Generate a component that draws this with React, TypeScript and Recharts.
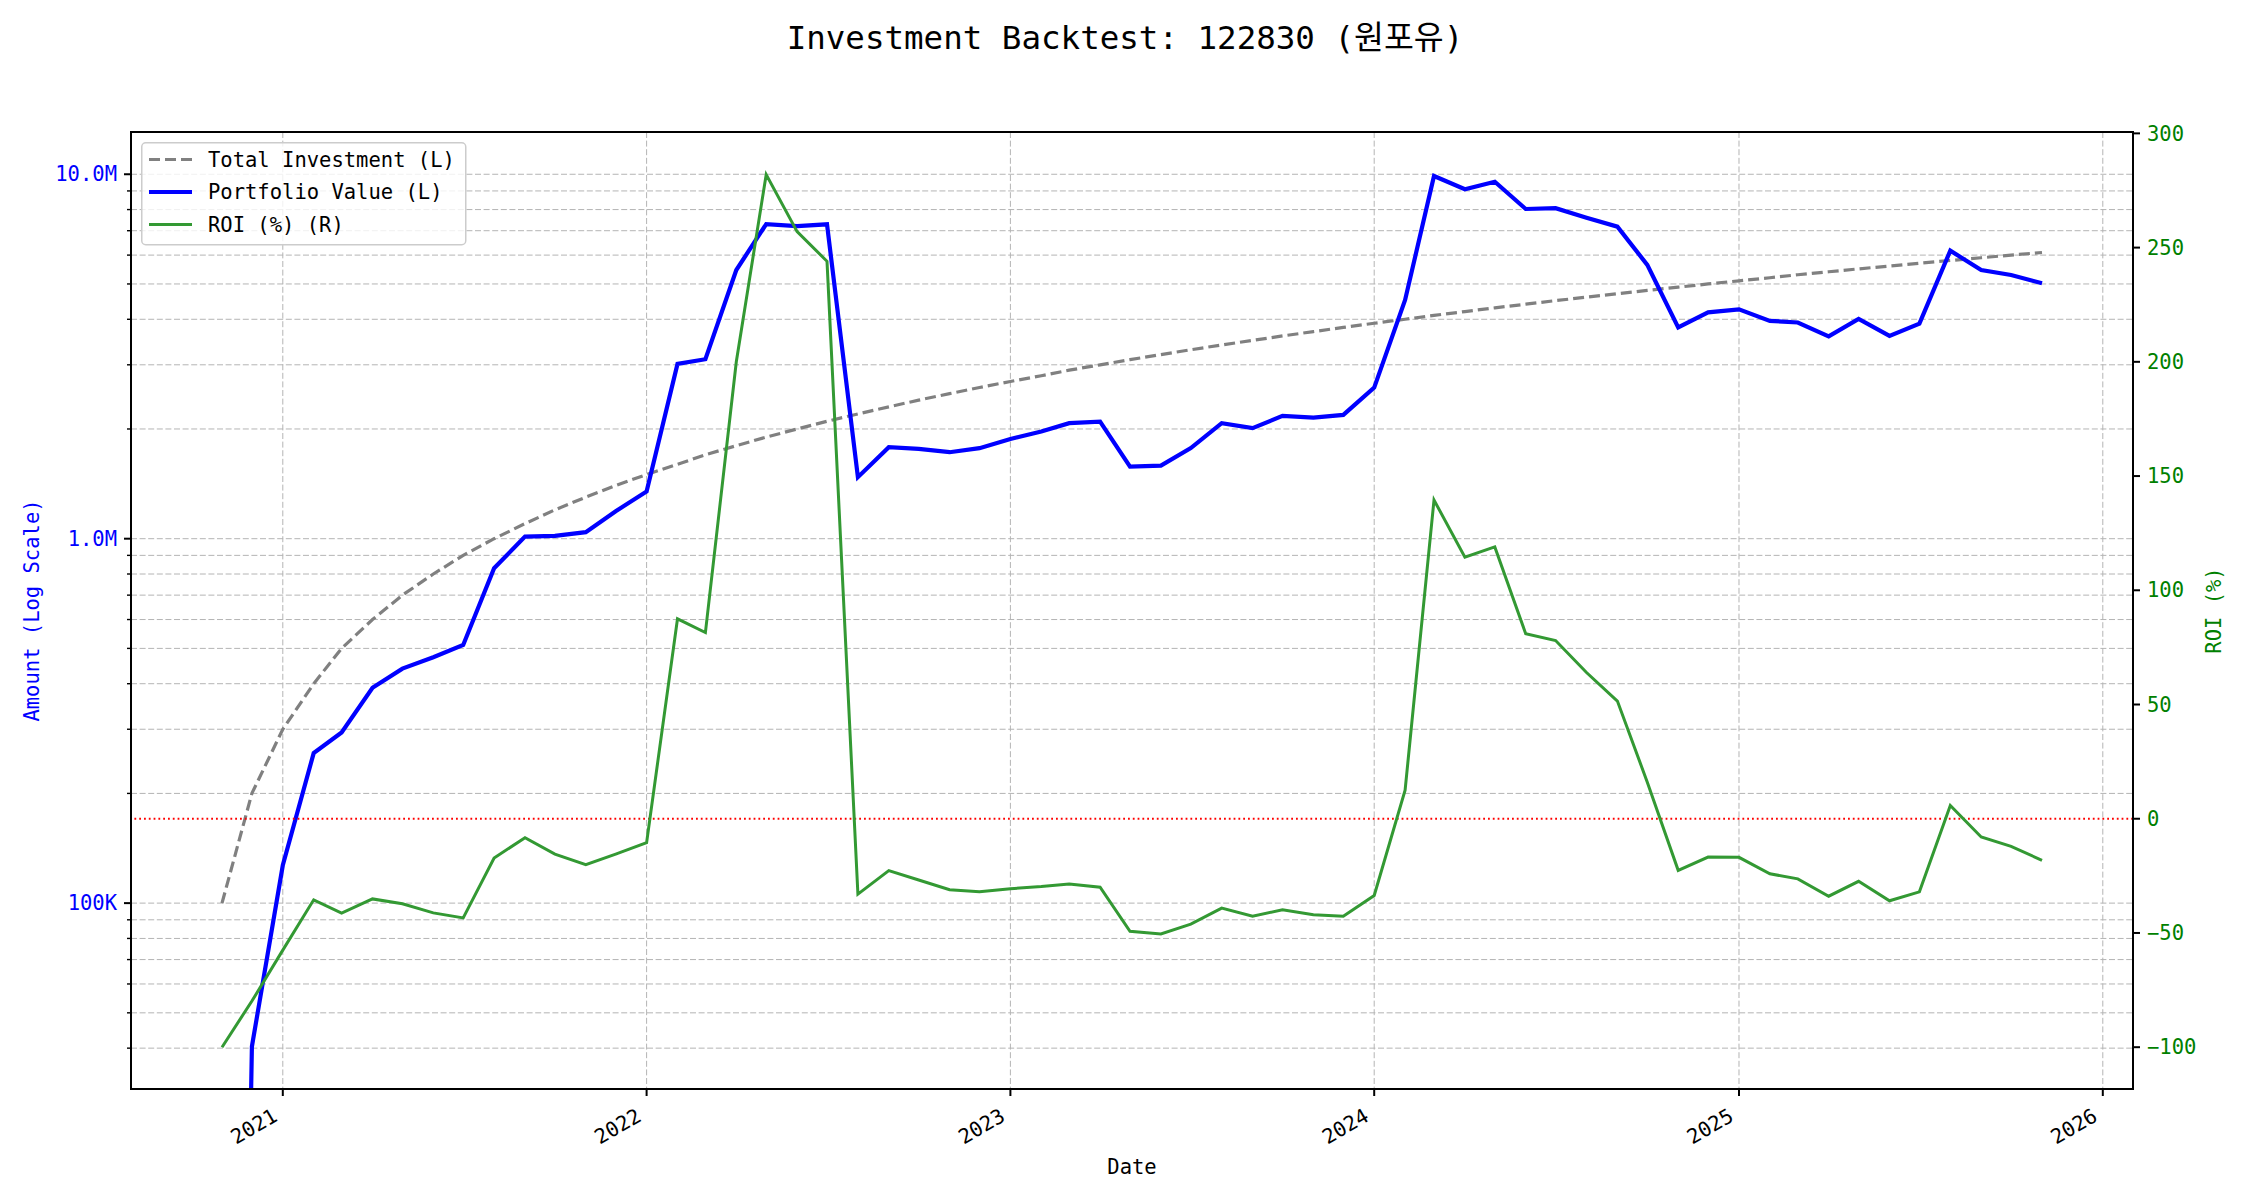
import React from 'react';
import { LineChart, Line, XAxis, YAxis, CartesianGrid, ReferenceLine, Legend } from 'recharts';

// monthly backtest points (first of each month)
const months = [
  '2020-11', '2020-12',
  '2021-01', '2021-02', '2021-03', '2021-04', '2021-05', '2021-06', '2021-07', '2021-08', '2021-09', '2021-10', '2021-11', '2021-12',
  '2022-01', '2022-02', '2022-03', '2022-04', '2022-05', '2022-06', '2022-07', '2022-08', '2022-09', '2022-10', '2022-11', '2022-12',
  '2023-01', '2023-02', '2023-03', '2023-04', '2023-05', '2023-06', '2023-07', '2023-08', '2023-09', '2023-10', '2023-11', '2023-12',
  '2024-01', '2024-02', '2024-03', '2024-04', '2024-05', '2024-06', '2024-07', '2024-08', '2024-09', '2024-10', '2024-11', '2024-12',
  '2025-01', '2025-02', '2025-03', '2025-04', '2025-05', '2025-06', '2025-07', '2025-08', '2025-09', '2025-10', '2025-11',
];

// amounts in thousands of won
const totalInvestmentK = [
  100, 200, 300, 400, 500, 600, 700, 800, 900, 1000, 1100, 1200, 1300, 1400, 1500, 1600, 1700, 1800, 1900, 2000,
  2100, 2200, 2300, 2400, 2500, 2600, 2700, 2800, 2900, 3000, 3100, 3200, 3300, 3400, 3500, 3600, 3700, 3800, 3900, 4000,
  4100, 4200, 4300, 4400, 4500, 4600, 4700, 4800, 4900, 5000, 5100, 5200, 5300, 5400, 5500, 5600, 5700, 5800, 5900, 6000,
  6100,
];

const portfolioValueK = [
  0, 40.4, 127, 258, 294, 390, 440, 473, 511, 830, 1013, 1018, 1042, 1190, 1347, 3017, 3108, 5460, 7300, 7210,
  7290, 1475, 1782, 1764, 1727, 1772, 1878, 1968, 2075, 2096, 1577, 1587, 1772, 2075, 2010, 2173, 2149, 2186, 2598, 4520,
  9890, 9100, 9540, 8030, 8070, 7600, 7180, 5640, 3800, 4180, 4260, 3960, 3920, 3590, 4010, 3600, 3890, 6170, 5460, 5290,
  5020,
];

const roiPct = [
  -100, -79.8, -57.5, -35.5, -41.3, -35.1, -37.2, -41.2, -43.4, -17.2, -8.3, -15.5, -20.1, -15.5, -10.5, 87.5, 81.5, 200, 282, 257,
  244, -33, -22.7, -26.8, -31.1, -32, -30.6, -29.7, -28.6, -30, -49.3, -50.4, -46.1, -39.1, -42.7, -39.8, -42, -42.7, -33.6, 12.5,
  139.5, 114.5, 119, 81, 78, 64, 51.5, 16, -22.6, -16.8, -16.9, -24.1, -26.3, -33.9, -27.4, -35.9, -32, 5.8, -8, -12.1,
  -18.2,
];

const xTickYears = [2021, 2022, 2023, 2024, 2025, 2026];

const leftTicks = [
  40000, 50000, 60000, 70000, 80000, 90000,
  100000, 200000, 300000, 400000, 500000, 600000, 700000, 800000, 900000,
  1000000, 2000000, 3000000, 4000000, 5000000, 6000000, 7000000, 8000000, 9000000,
  10000000,
];
const leftMajorTicks = [100000, 1000000, 10000000];
const leftMajorLabels = ['100K', '1.0M', '10.0M'];

const rightTicks = [-100, -50, 0, 50, 100, 150, 200, 250, 300];
const rightTickLabels = ['\u2212100', '\u221250', '0', '50', '100', '150', '200', '250', '300'];

const legendItems = [
  { label: 'Total Investment (L)', color: '#808080', width: 3.2, dash: '11 5' },
  { label: 'Portfolio Value (L)', color: '#0000ff', width: 4.2, dash: undefined },
  { label: 'ROI (%) (R)', color: '#339933', width: 3, dash: undefined },
];

const FONT = "'DejaVu Sans Mono', 'Noto Sans CJK KR', monospace";
const W = 2250;
const H = 1200;
const PLOT = { left: 131, right: 2133, top: 132, bottom: 1089 };

const toTime = (m: string) => {
  const [y, mo] = m.split('-').map(Number);
  return Date.UTC(y, mo - 1, 1);
};

const rows = months.map((m, i) => ({
  t: toTime(m),
  invest: totalInvestmentK[i] * 1000,
  // a log axis can't take 0, clip it to a tiny value like matplotlib does
  portfolio: Math.max(portfolioValueK[i] * 1000, 1),
  roi: roiPct[i],
}));

const tFirst = rows[0].t;
const tLast = rows[rows.length - 1].t;
const xPad = (tLast - tFirst) * 0.05;
const xDomain = [tFirst - xPad, tLast + xPad];
const xTicks = xTickYears.map((y) => Date.UTC(y, 0, 1));

const XTick = (props: any) => {
  const { x, payload } = props;
  const by = PLOT.bottom;
  const tx = x - 4;
  const ty = by + 31;
  return (
    <g>
      <line x1={x} x2={x} y1={by} y2={by + 7} stroke="#000" strokeWidth={2} />
      <text x={tx} y={ty} textAnchor="end" transform={`rotate(-30 ${tx} ${ty})`}
        fontSize={20.5} fontFamily={FONT} fill="#000">
        {new Date(payload.value).getUTCFullYear()}
      </text>
    </g>
  );
};

const LeftTick = (props: any) => {
  const { y, payload } = props;
  const idx = leftMajorTicks.indexOf(payload.value);
  const major = idx >= 0;
  return (
    <g>
      <line x1={PLOT.left - (major ? 7 : 4)} x2={PLOT.left} y1={y} y2={y} stroke="#000" strokeWidth={major ? 2 : 1.4} />
      {major && (
        <text x={PLOT.left - 14} y={y} dy="0.35em" textAnchor="end" fontSize={20.5} fontFamily={FONT} fill="#0000ff">
          {leftMajorLabels[idx]}
        </text>
      )}
    </g>
  );
};

const RightTick = (props: any) => {
  const { y, payload } = props;
  const idx = rightTicks.indexOf(payload.value);
  return (
    <g>
      <line x1={PLOT.right} x2={PLOT.right + 7} y1={y} y2={y} stroke="#000" strokeWidth={2} />
      <text x={PLOT.right + 14} y={y} dy="0.35em" textAnchor="start" fontSize={20.5} fontFamily={FONT} fill="#008000">
        {rightTickLabels[idx]}
      </text>
    </g>
  );
};

const renderLegend = () => (
  <svg width={326} height={104} style={{ display: 'block' }}>
    <rect x={0.75} y={0.75} width={324} height={102} rx={4} fill="#fff" fillOpacity={0.8} stroke="#cccccc" strokeWidth={1.5} />
    {legendItems.map((it, i) => {
      const cy = 17.5 + i * 32.5;
      return (
        <g key={it.label}>
          <line x1={8} x2={51} y1={cy} y2={cy} stroke={it.color} strokeWidth={it.width} strokeDasharray={it.dash} />
          <text x={67} y={cy} dy="0.35em" fontFamily={FONT} fontSize={20.5} fill="#000">{it.label}</text>
        </g>
      );
    })}
  </svg>
);

export default function App() {
  const midY = (PLOT.top + PLOT.bottom) / 2;
  const midX = (PLOT.left + PLOT.right) / 2;
  return (
    <div style={{ position: 'absolute', left: 0, top: 0, width: W, height: H, background: '#fff' }}>
      <LineChart width={W} height={H} data={rows} margin={{ top: PLOT.top, right: 0, bottom: 0, left: 0 }}>
        <CartesianGrid yAxisId="left" stroke="#b4b4b4" strokeWidth={1} strokeDasharray="6 2.6" />
        <XAxis dataKey="t" type="number" domain={xDomain} allowDataOverflow ticks={xTicks} interval={0}
          height={H - PLOT.bottom} tick={XTick} tickLine={false} axisLine={false} />
        <YAxis yAxisId="left" scale="log" domain={[30900, 13060000]} allowDataOverflow ticks={leftTicks} interval={0}
          width={PLOT.left} tick={LeftTick} tickLine={false} axisLine={false} />
        <YAxis yAxisId="right" orientation="right" domain={[-118.3, 300.6]} allowDataOverflow ticks={rightTicks} interval={0}
          width={W - PLOT.right} tick={RightTick} tickLine={false} axisLine={false} />
        <Line yAxisId="left" type="linear" dataKey="invest" stroke="#808080" strokeWidth={3.2} strokeDasharray="11 5"
          dot={false} activeDot={false} isAnimationActive={false} />
        <Line yAxisId="left" type="linear" dataKey="portfolio" stroke="#0000ff" strokeWidth={4.2}
          dot={false} activeDot={false} isAnimationActive={false} />
        <ReferenceLine yAxisId="right" y={0} stroke="#ff0000" strokeWidth={1.8} strokeDasharray="1.8 3" />
        <Line yAxisId="right" type="linear" dataKey="roi" stroke="#339933" strokeWidth={3}
          dot={false} activeDot={false} isAnimationActive={false} />
        <Legend content={renderLegend} layout="vertical" align="center" verticalAlign="middle"
          wrapperStyle={{ position: 'absolute', left: 141, top: 142, width: 326, height: 104 }} />
      </LineChart>
      <svg width={W} height={H} style={{ position: 'absolute', left: 0, top: 0, pointerEvents: 'none' }}>
        <rect x={PLOT.left} y={PLOT.top} width={PLOT.right - PLOT.left} height={PLOT.bottom - PLOT.top}
          fill="none" stroke="#000" strokeWidth={2} />
        <text x={W / 2} y={49} textAnchor="middle" fontFamily={FONT} fontSize={32.5} fill="#000">
          Investment Backtest: 122830 (원포유)
        </text>
        <text x={31.5} y={midY} dy="0.35em" textAnchor="middle" transform={`rotate(-90 31.5 ${midY})`}
          fontFamily={FONT} fontSize={20.5} fill="#0000ff">
          Amount (Log Scale)
        </text>
        <text x={2214} y={midY} dy="0.35em" textAnchor="middle" transform={`rotate(-90 2214 ${midY})`}
          fontFamily={FONT} fontSize={20.5} fill="#008000">
          ROI (%)
        </text>
        <text x={midX} y={1167} dy="0.35em" textAnchor="middle" fontFamily={FONT} fontSize={20.5} fill="#000">
          Date
        </text>
      </svg>
    </div>
  );
}
